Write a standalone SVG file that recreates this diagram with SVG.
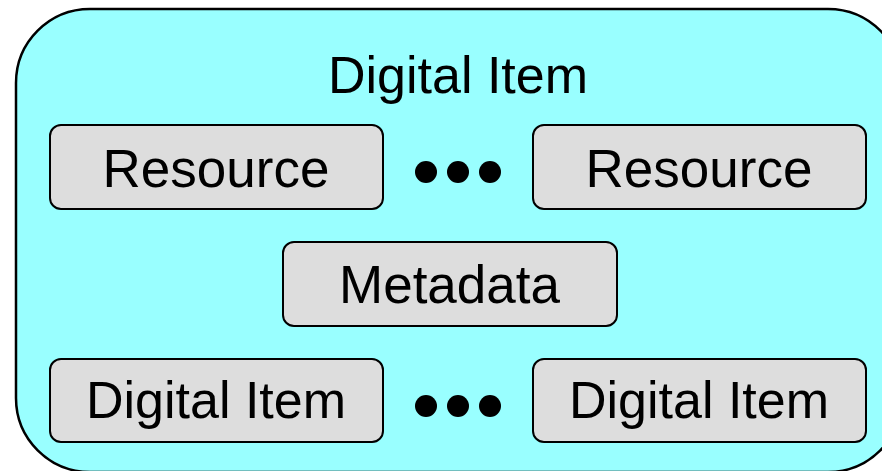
<svg xmlns="http://www.w3.org/2000/svg" width="882" height="471" viewBox="0 0 882 471">
  <style>
    .outer { fill: #99ffff; stroke: #000; stroke-width: 2.5; }
    .box { fill: #dddddd; stroke: #000; stroke-width: 2; }
    .lbl { font-family: "Liberation Sans", Arial, sans-serif; font-size: 53px; fill: #000; text-anchor: middle; }
    .dot { fill: #000; }
  </style>
  <rect width="882" height="471" fill="#ffffff"/>

  <g id="container">
    <rect class="outer" x="16" y="9" width="886" height="463" rx="74" ry="74"/>
    <text class="lbl" x="458" y="93" style="font-size:52px">Digital Item</text>
  </g>

  <g id="resource-1">
    <rect class="box" x="50" y="125" width="333" height="84" rx="11" ry="11"/>
    <text class="lbl" x="216" y="187">Resource</text>
  </g>
  <g id="resource-ellipsis">
    <circle class="dot" cx="426" cy="172" r="11"/>
    <circle class="dot" cx="458" cy="172" r="11"/>
    <circle class="dot" cx="490" cy="172" r="11"/>
  </g>
  <g id="resource-n">
    <rect class="box" x="533" y="125" width="333" height="84" rx="11" ry="11"/>
    <text class="lbl" x="699" y="187">Resource</text>
  </g>

  <g id="metadata">
    <rect class="box" x="283" y="242" width="334" height="84" rx="11" ry="11"/>
    <text class="lbl" x="449.5" y="303">Metadata</text>
  </g>

  <g id="item-1">
    <rect class="box" x="50" y="359" width="333" height="83" rx="11" ry="11"/>
    <text class="lbl" x="216" y="418" style="font-size:52px">Digital Item</text>
  </g>
  <g id="item-ellipsis">
    <circle class="dot" cx="426" cy="406" r="11"/>
    <circle class="dot" cx="458" cy="406" r="11"/>
    <circle class="dot" cx="490" cy="406" r="11"/>
  </g>
  <g id="item-n">
    <rect class="box" x="533" y="359" width="333" height="83" rx="11" ry="11"/>
    <text class="lbl" x="699" y="418" style="font-size:52px">Digital Item</text>
  </g>

  <g id="connectors"></g>
</svg>
